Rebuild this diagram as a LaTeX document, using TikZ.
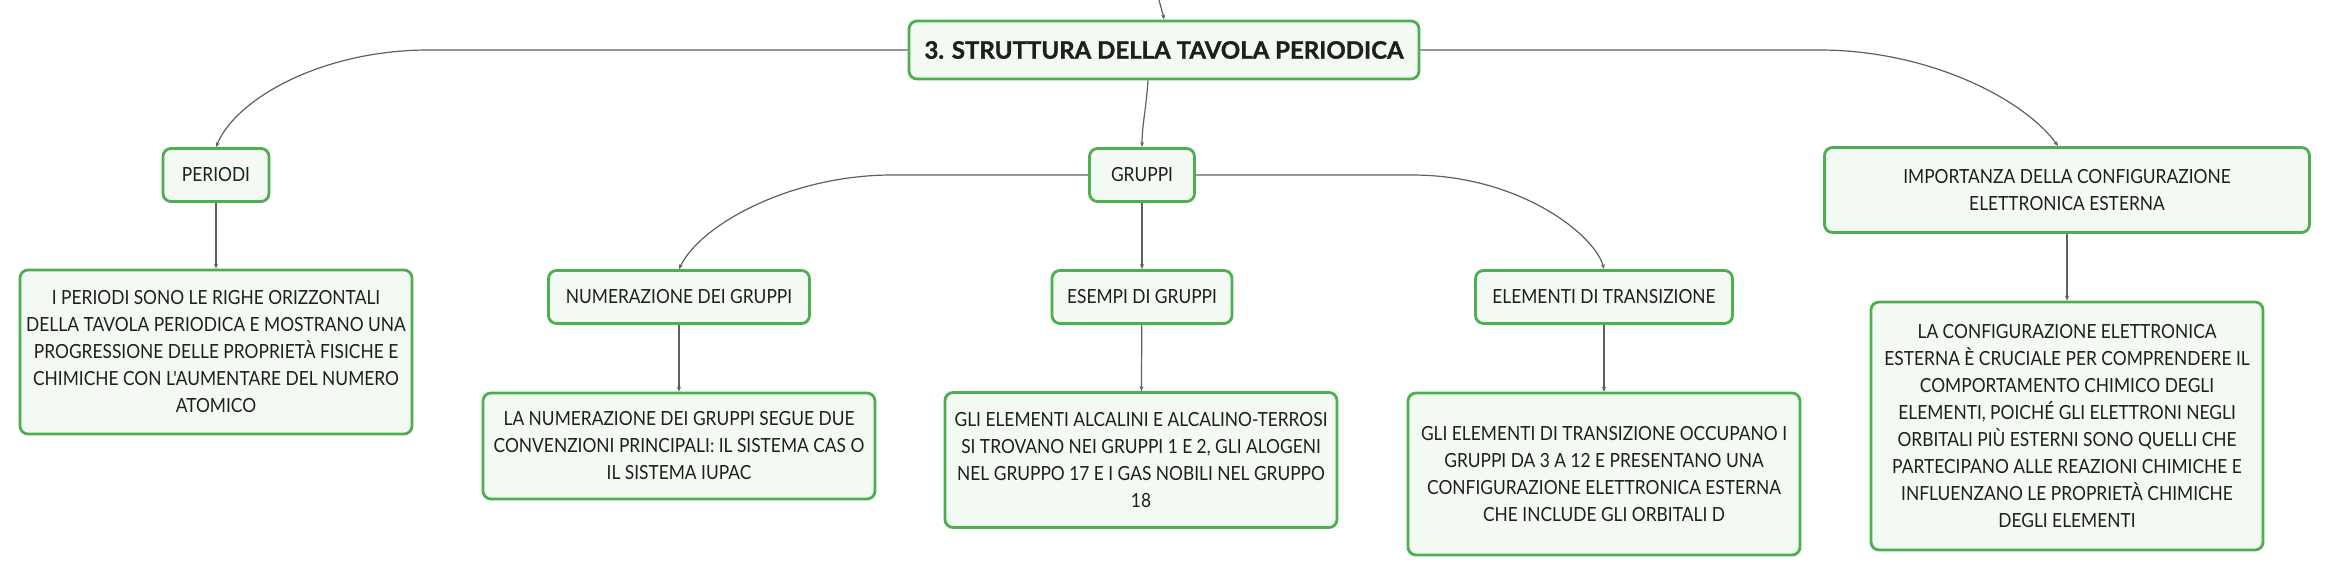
\documentclass[tikz,border=0pt]{standalone}
\usepackage{fontspec}
\setmainfont{Lato}
\newfontfamily\bodyfont{Lato}[FakeStretch=0.89]
\newfontfamily\titlefont{Lato}[BoldFeatures={FakeBold=1.2}]
\usetikzlibrary{arrows.meta}
\definecolor{boxgreen}{RGB}{76,175,80}
\definecolor{boxfill}{RGB}{243,250,243}
\definecolor{linkgray}{RGB}{95,95,95}
\tikzset{
  mapnode/.style = {align=center, rounded corners=8pt, draw=boxgreen, fill=boxfill, line width=2.8pt, inner sep=0pt, text=black!88, font=\bodyfont\fontsize{19.5}{27}\selectfont},
  rootnode/.style = {mapnode, minimum width=510pt, minimum height=58pt, font=\titlefont\fontsize{24}{29}\selectfont\bfseries},
  topicnode/.style = {mapnode, minimum height=53pt},
  descnode/.style = {mapnode, minimum width=392pt},
  link/.style = {draw=linkgray, line width=1.2pt, -{Stealth[length=5pt,width=4pt]}},
}

\begin{document}
\begin{tikzpicture}[x=1pt,y=-1pt]
\useasboundingbox (0,0) rectangle (2330,577);
\coordinate (up) at (1159,0);
\node [rootnode] (R) at (1164,50) {3. STRUTTURA DELLA TAVOLA PERIODICA};
% first level
\node [topicnode, minimum width=106pt] (P) at (216,175) {PERIODI};
\node [topicnode, minimum width=105pt] (G) at (1142,175) {GRUPPI};
\node [topicnode, minimum width=485pt, minimum height=85pt] (I) at (2067,190) {IMPORTANZA DELLA CONFIGURAZIONE\\ELETTRONICA ESTERNA};
% second level
\node [topicnode, minimum width=261pt] (N) at (679,297) {NUMERAZIONE DEI GRUPPI};
\node [topicnode, minimum width=180pt] (E) at (1142,297) {ESEMPI DI GRUPPI};
\node [topicnode, minimum width=257pt] (T) at (1604,297) {ELEMENTI DI TRANSIZIONE};
% descriptions
\node [descnode, minimum height=164pt] (Pd) at (216,352) {I PERIODI SONO LE RIGHE ORIZZONTALI\\DELLA TAVOLA PERIODICA E MOSTRANO UNA\\PROGRESSIONE DELLE PROPRIETÀ FISICHE E\\CHIMICHE CON L'AUMENTARE DEL NUMERO\\ATOMICO};
\node [descnode, minimum height=106pt] (Nd) at (679,446) {LA NUMERAZIONE DEI GRUPPI SEGUE DUE\\CONVENZIONI PRINCIPALI: IL SISTEMA CAS O\\IL SISTEMA IUPAC};
\node [descnode, minimum height=135pt] (Ed) at (1141,460) {GLI ELEMENTI ALCALINI E ALCALINO-TERROSI\\SI TROVANO NEI GRUPPI 1 E 2, GLI ALOGENI\\NEL GRUPPO 17 E I GAS NOBILI NEL GRUPPO\\18};
\node [descnode, minimum height=162pt] (Td) at (1604,474) {GLI ELEMENTI DI TRANSIZIONE OCCUPANO I\\GRUPPI DA 3 A 12 E PRESENTANO UNA\\CONFIGURAZIONE ELETTRONICA ESTERNA\\CHE INCLUDE GLI ORBITALI D};
\node [descnode, minimum height=248pt] (Id) at (2067,426) {LA CONFIGURAZIONE ELETTRONICA\\ESTERNA È CRUCIALE PER COMPRENDERE IL\\COMPORTAMENTO CHIMICO DEGLI\\ELEMENTI, POICHÉ GLI ELETTRONI NEGLI\\ORBITALI PIÙ ESTERNI SONO QUELLI CHE\\PARTECIPANO ALLE REAZIONI CHIMICHE E\\INFLUENZANO LE PROPRIETÀ CHIMICHE\\DEGLI ELEMENTI};
% connectors
\draw [link] (up) .. controls (1162,8) .. (R.north);
\draw [link] (R.west) -- (429,50) .. controls (320,50) and (235,100) .. (P.north);
\draw [link] ([xshift=-16pt]R.south) .. controls (1146,110) and (1142,125) .. (G.north);
\draw [link] (R.east) -- (1819,50) .. controls (1930,50) and (2025,100) .. ([xshift=-9pt]I.north);
\draw [link] (G.west) -- (892,175) .. controls (790,175) and (700,225) .. (N.north);
\draw [link] (G) -- (E);
\draw [link] (G.east) -- (1412,175) .. controls (1520,175) and (1595,235) .. (T.north);
\draw [link] (P) -- (Pd);
\draw [link] (N) -- (Nd);
\draw [link] (E) -- (Ed);
\draw [link] (T) -- (Td);
\draw [link] (I) -- (Id);
\end{tikzpicture}
\end{document}
